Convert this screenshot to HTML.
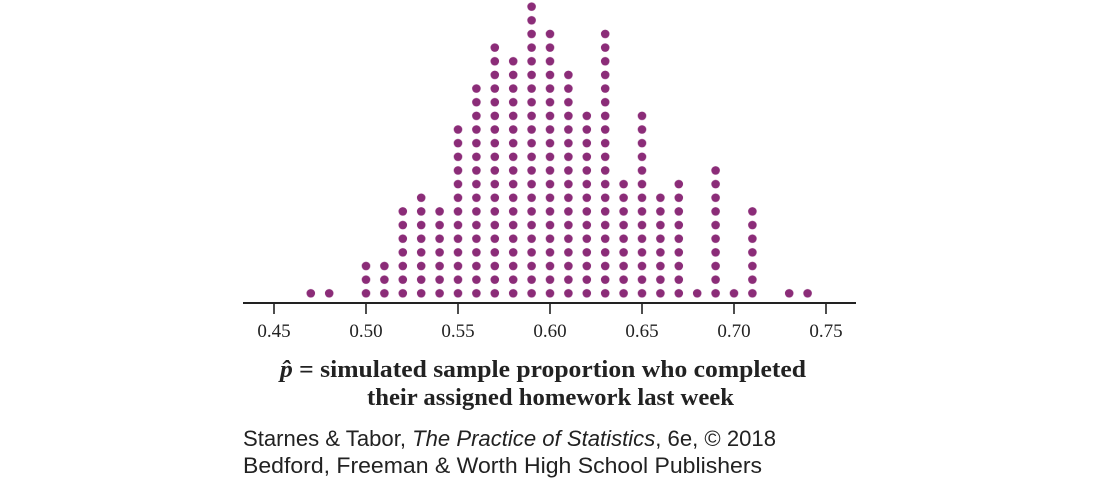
<!DOCTYPE html>
<html><head><meta charset="utf-8"><style>
body{margin:0;background:#fff;width:1100px;height:481px;overflow:hidden}
</style></head><body>
<svg width="1100" height="481" xmlns="http://www.w3.org/2000/svg">
<defs>
<pattern id="p" patternUnits="userSpaceOnUse" x="264.8" y="286.475" width="18.4" height="13.65">
<circle cx="9.2" cy="6.825" r="4.3" fill="#8b2c78"/>
</pattern>
</defs>
<g fill="url(#p)">
<rect x="304.8" y="287.3" width="12" height="12.7"/>
<rect x="323.2" y="287.3" width="12" height="12.7"/>
<rect x="360" y="260" width="12" height="40"/>
<rect x="378.4" y="260" width="12" height="40"/>
<rect x="396.8" y="205.4" width="12" height="94.6"/>
<rect x="415.2" y="191.75" width="12" height="108.25"/>
<rect x="433.6" y="205.4" width="12" height="94.6"/>
<rect x="452" y="123.5" width="12" height="176.5"/>
<rect x="470.4" y="82.55" width="12" height="217.45"/>
<rect x="488.8" y="41.6" width="12" height="258.4"/>
<rect x="507.2" y="55.25" width="12" height="244.75"/>
<rect x="525.6" y="0.65" width="12" height="299.35"/>
<rect x="544" y="27.95" width="12" height="272.05"/>
<rect x="562.4" y="68.9" width="12" height="231.1"/>
<rect x="580.8" y="109.85" width="12" height="190.15"/>
<rect x="599.2" y="27.95" width="12" height="272.05"/>
<rect x="617.6" y="178.1" width="12" height="121.9"/>
<rect x="636" y="109.85" width="12" height="190.15"/>
<rect x="654.4" y="191.75" width="12" height="108.25"/>
<rect x="672.8" y="178.1" width="12" height="121.9"/>
<rect x="691.2" y="287.3" width="12" height="12.7"/>
<rect x="709.6" y="164.45" width="12" height="135.55"/>
<rect x="728" y="287.3" width="12" height="12.7"/>
<rect x="746.4" y="205.4" width="12" height="94.6"/>
<rect x="783.2" y="287.3" width="12" height="12.7"/>
<rect x="801.6" y="287.3" width="12" height="12.7"/>
</g>
<line x1="243" y1="303" x2="856" y2="303" stroke="#222" stroke-width="2"/>
<g stroke="#222" stroke-width="1.6">
<line x1="274" y1="303" x2="274" y2="314"/><line x1="366" y1="303" x2="366" y2="314"/>
<line x1="458" y1="303" x2="458" y2="314"/><line x1="550" y1="303" x2="550" y2="314"/>
<line x1="642" y1="303" x2="642" y2="314"/><line x1="734" y1="303" x2="734" y2="314"/>
<line x1="826" y1="303" x2="826" y2="314"/>
</g>
<g font-family="Liberation Serif, serif" font-size="19" fill="#222" text-anchor="middle">
<text x="274" y="337">0.45</text><text x="366" y="337">0.50</text><text x="458" y="337">0.55</text>
<text x="550" y="337">0.60</text><text x="642" y="337">0.65</text><text x="734" y="337">0.70</text>
<text x="826" y="337">0.75</text>
</g>
<g font-family="Liberation Serif, serif" font-size="24" font-weight="bold" fill="#222">
<text x="280" y="377" textLength="526" lengthAdjust="spacingAndGlyphs"><tspan font-style="italic">p̂</tspan> = simulated sample proportion who completed</text>
<text x="367" y="405" textLength="367" lengthAdjust="spacingAndGlyphs">their assigned homework last week</text>
</g>
<g font-family="Liberation Sans, sans-serif" font-size="22" fill="#222">
<text x="243" y="446" textLength="533" lengthAdjust="spacingAndGlyphs">Starnes &amp; Tabor, <tspan font-style="italic">The Practice of Statistics</tspan>, 6e, © 2018</text>
<text x="243" y="473" textLength="519" lengthAdjust="spacingAndGlyphs">Bedford, Freeman &amp; Worth High School Publishers</text>
</g>
</svg>
</body></html>
